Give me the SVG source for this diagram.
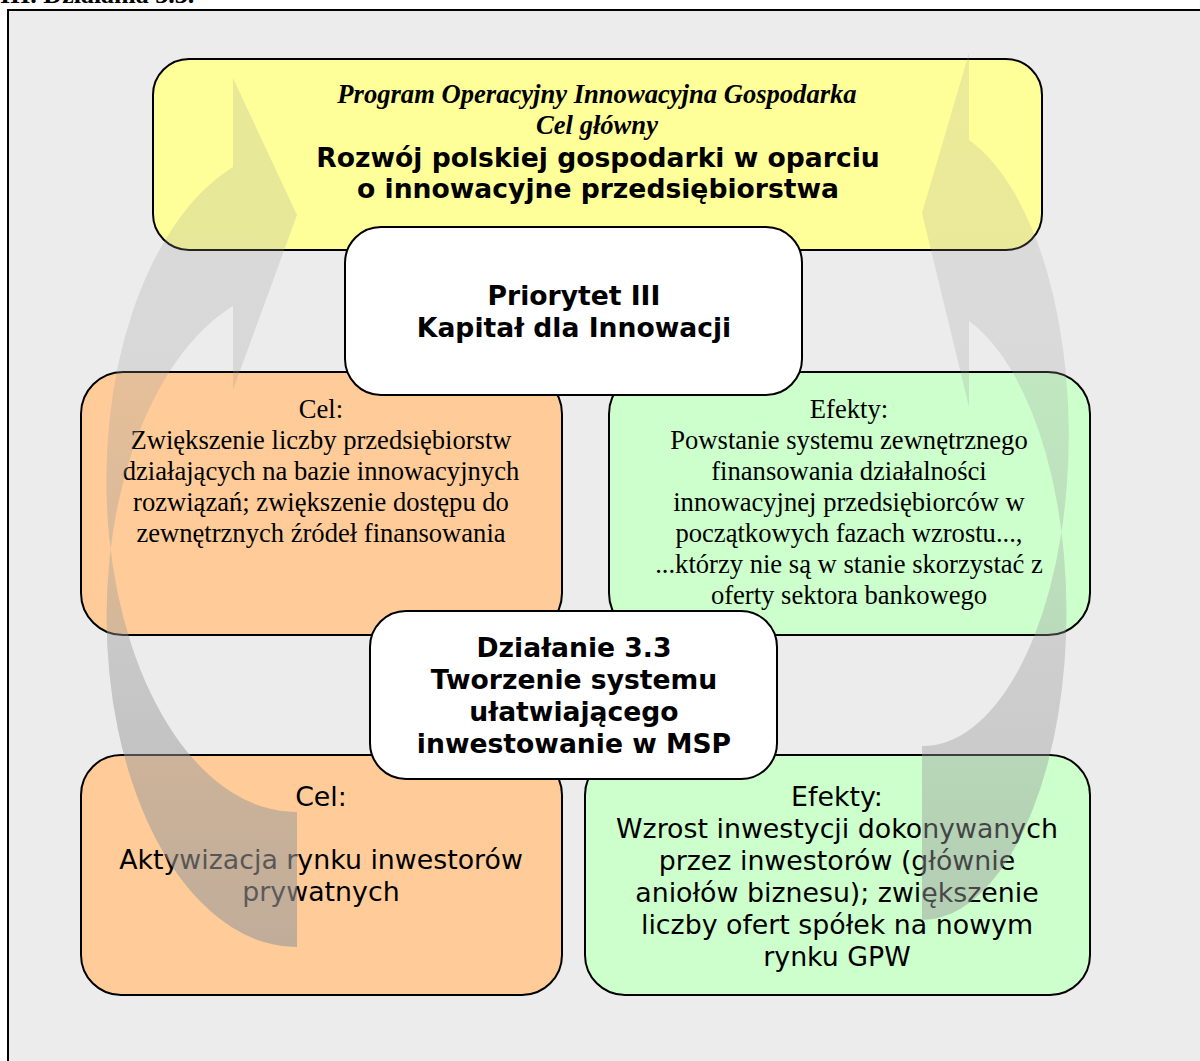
<svg xmlns="http://www.w3.org/2000/svg" width="1200" height="1061" viewBox="0 0 1200 1061">
<style>
.box{stroke:#000;stroke-width:2}
.yel{fill:#FFFF99}
.wht{fill:#FFFFFF}
.org{fill:#FFCC99}
.grn{fill:#CCFFCC}
.serif{font-family:"Liberation Serif","Times New Roman",serif;font-size:26.6px;fill:#000;text-anchor:middle}
.sans{font-family:"DejaVu Sans",Verdana,sans-serif;font-size:26.8px;fill:#000;text-anchor:middle}
.b{font-weight:bold;font-size:26.6px}
.it{font-style:italic;font-weight:bold}
</style>
<defs>
<linearGradient id="gL" gradientUnits="userSpaceOnUse" x1="0" y1="60" x2="0" y2="950">
<stop offset="0" stop-color="#999999" stop-opacity="0.22"/>
<stop offset="0.33" stop-color="#999999" stop-opacity="0.24"/>
<stop offset="1" stop-color="#999999" stop-opacity="0.62"/>
</linearGradient>
<linearGradient id="gR" gradientUnits="userSpaceOnUse" x1="0" y1="50" x2="0" y2="925">
<stop offset="0" stop-color="#999999" stop-opacity="0.2"/>
<stop offset="0.33" stop-color="#999999" stop-opacity="0.22"/>
<stop offset="1" stop-color="#999999" stop-opacity="0.48"/>
</linearGradient>
</defs>
<rect x="0" y="0" width="1200" height="1061" fill="#FFFFFF"/>
<text x="0" y="3" font-family="Liberation Serif, serif" font-weight="bold" font-size="26">III. Działania 3.3.</text>
<rect x="8" y="10" width="1200" height="1060" fill="#ECECEC" stroke="#000" stroke-width="2"/>

<g id="cel-glowny">
<rect class="box yel" x="153" y="59" width="889" height="191" rx="36"/>
<text class="serif it" x="597" y="103" font-size="27.5">Program Operacyjny Innowacyjna Gospodarka</text>
<text class="serif it" x="597" y="134" font-size="27.5">Cel główny</text>
<text class="sans b" x="598" y="167">Rozwój polskiej gospodarki w oparciu</text>
<text class="sans b" x="598" y="198">o innowacyjne przedsiębiorstwa</text>
</g>

<g id="cel-priorytet">
<rect class="box org" x="81" y="372" width="481" height="263" rx="42"/>
<text class="serif" x="321" y="418">Cel:</text>
<text class="serif" x="321" y="449">Zwiększenie liczby przedsiębiorstw</text>
<text class="serif" x="321" y="480">działających na bazie innowacyjnych</text>
<text class="serif" x="321" y="511">rozwiązań; zwiększenie dostępu do</text>
<text class="serif" x="321" y="542">zewnętrznych źródeł finansowania</text>
</g>

<g id="efekty-priorytet">
<rect class="box grn" x="609" y="372" width="481" height="263" rx="42"/>
<text class="serif" x="849" y="418">Efekty:</text>
<text class="serif" x="849" y="449">Powstanie systemu zewnętrznego</text>
<text class="serif" x="849" y="480">finansowania działalności</text>
<text class="serif" x="849" y="511">innowacyjnej przedsiębiorców w</text>
<text class="serif" x="849" y="542">początkowych fazach wzrostu...,</text>
<text class="serif" x="849" y="573">...którzy nie są w stanie skorzystać z</text>
<text class="serif" x="849" y="604">oferty sektora bankowego</text>
</g>

<g id="cel-dzialanie">
<rect class="box org" x="81" y="755" width="481" height="240" rx="40"/>
<text class="sans" x="321" y="806">Cel:</text>
<text class="sans" x="321" y="869">Aktywizacja rynku inwestorów</text>
<text class="sans" x="321" y="901">prywatnych</text>
</g>

<g id="efekty-dzialanie">
<rect class="box grn" x="585" y="755" width="505" height="240" rx="40"/>
<text class="sans" x="837" y="806">Efekty:</text>
<text class="sans" x="837" y="838">Wzrost inwestycji dokonywanych</text>
<text class="sans" x="837" y="870">przez inwestorów (głównie</text>
<text class="sans" x="837" y="902">aniołów biznesu); zwiększenie</text>
<text class="sans" x="837" y="934">liczby ofert spółek na nowym</text>
<text class="sans" x="837" y="966">rynku GPW</text>
</g>

<g id="priorytet">
<rect class="box wht" x="345" y="227" width="457" height="168" rx="36"/>
<text class="sans b" x="574" y="305">Priorytet III</text>
<text class="sans b" x="574" y="337">Kapitał dla Innowacji</text>
</g>

<g id="dzialanie">
<rect class="box wht" x="370" y="611" width="407" height="168" rx="36"/>
<text class="sans b" x="574" y="657">Działanie 3.3</text>
<text class="sans b" x="574" y="689">Tworzenie systemu</text>
<text class="sans b" x="574" y="721">ułatwiającego</text>
<text class="sans b" x="574" y="753">inwestowanie w MSP</text>
</g>

<g id="connectors">
<path fill="url(#gL)" d="M297,947 A190,330 0 0 1 233,306 L233,390 L297,215 L233,78 L233,167 A190,332 0 0 0 297,812 Z"/>
<path fill="url(#gR)" d="M922,920 A145,308 0 0 0 969,321 L969,407 L922,213 L969,53 L969,140 A146,311 0 0 1 922,746 Z"/>
</g>
</svg>
